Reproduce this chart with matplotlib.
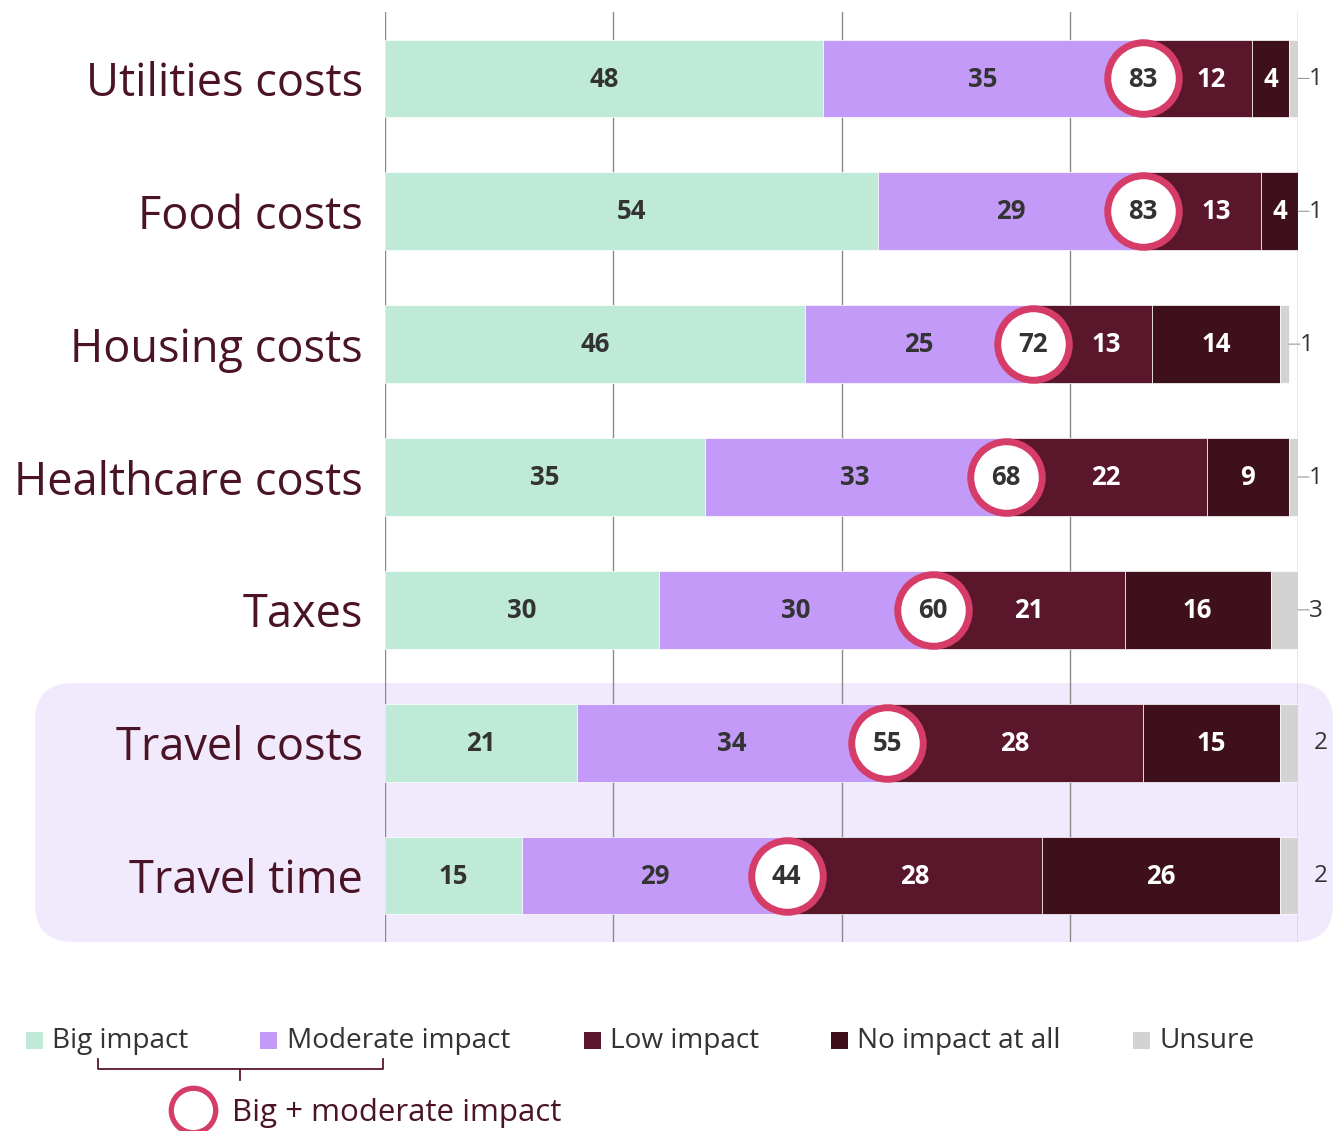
import matplotlib
matplotlib.use("Agg")
import matplotlib.pyplot as plt
from matplotlib.patches import FancyBboxPatch, Rectangle
from matplotlib.lines import Line2D

categories = ["Utilities costs", "Food costs", "Housing costs", "Healthcare costs",
              "Taxes", "Travel costs", "Travel time"]
big = [48, 54, 46, 35, 30, 21, 15]
moderate = [35, 29, 25, 33, 30, 34, 29]
low = [12, 13, 13, 22, 21, 28, 28]
no_impact = [4, 4, 14, 9, 16, 15, 26]
unsure = [1, 1, 1, 1, 3, 2, 2]
big_plus_moderate = [83, 83, 72, 68, 60, 55, 44]
series_names = ["Big impact", "Moderate impact", "Low impact", "No impact at all", "Unsure"]
combined_name = "Big + moderate impact"

colors = ["#bfead7", "#c39af7", "#5a172b", "#3e101c", "#d3d3d3"]
text_colors = ["#333333", "#333333", "white", "white", None]
ring = "#d63c68"
label_col = "#4a1426"

W, H = 1336, 1131
fig = plt.figure(figsize=(W / 100, H / 100), dpi=100)
FONT = "Open Sans"
plt.rcParams["font.family"] = [FONT, "DejaVu Sans"]

def fx(x):
    return x / W

def fy(y):
    return 1 - y / H

# highlight rounded box behind travel rows (in inches)
hl = FancyBboxPatch((35 / 100, (H - 942) / 100), (1333 - 35) / 100, (942 - 683) / 100,
                    boxstyle="round,pad=0,rounding_size=0.38",
                    transform=fig.dpi_scale_trans, facecolor="#f1eafc",
                    edgecolor="none", zorder=0)
fig.patches.append(hl)

ax = fig.add_axes([fx(385), fy(942), fx(1298) - fx(385), fy(12) - fy(942)])
ax.patch.set_alpha(0)
ax.set_zorder(1)

n = len(categories)
ypos = list(range(n))
series = [big, moderate, low, no_impact, unsure]
VAL_FS = 18.5
left = [0] * n
for si, vals in enumerate(series):
    ax.barh(ypos, vals, left=left, height=0.585, color=colors[si],
            edgecolor="white", linewidth=0.5, zorder=2)
    if text_colors[si] is not None:
        for i, v in enumerate(vals):
            xc = left[i] + v / 2
            # nudge narrow "low" labels away from the circle
            if si == 2 and v < 15:
                xc += 1.5
            ax.annotate(str(v), xy=(xc, i), xytext=(0, -0.5),
                        textcoords="offset points", ha="center", va="center",
                        fontsize=VAL_FS, fontweight="bold", color=text_colors[si],
                        zorder=3)
    left = [l + v for l, v in zip(left, vals)]

# big + moderate circles
bm_pos = [b + m for b, m in zip(big, moderate)]
ax.scatter(bm_pos, ypos, s=2650, facecolor="white", edgecolor=ring, linewidth=5,
           zorder=4)
for i, v in enumerate(big_plus_moderate):
    ax.annotate(str(v), xy=(bm_pos[i], i), xytext=(0, -0.5), textcoords="offset points",
                ha="center", va="center", fontsize=VAL_FS, fontweight="bold",
                color="#333333", zorder=5)

# unsure labels outside
for i, v in enumerate(unsure):
    tot = min(left[i], 100)
    if i < 5:
        ax.annotate(str(v), xy=(tot, i), xytext=(8, -0.5), textcoords="offset points",
                    ha="left", va="center", fontsize=17.5, color="#333333",
                    annotation_clip=False)
        ax.annotate("", xy=(tot, i), xytext=(8, 0), textcoords="offset points",
                    arrowprops=dict(arrowstyle="-", color="#999999", lw=0.8,
                                    shrinkA=0, shrinkB=0), annotation_clip=False)
    else:
        ax.annotate(str(v), xy=(tot, i), xytext=(11, -0.5), textcoords="offset points",
                    ha="left", va="center", fontsize=17.5, color="#333333",
                    annotation_clip=False)

ax.set_xlim(0, 100)
ax.set_ylim(n - 0.5, -0.5)
ax.set_xticks([0, 25, 50, 75, 100])
ax.xaxis.grid(True, color="#8a8a8a", linewidth=1)
ax.set_axisbelow(True)
ax.tick_params(axis="x", length=0, labelbottom=False)
ax.tick_params(axis="y", length=0, pad=16)
ax.set_yticks(ypos)
ax.set_yticklabels(categories, fontsize=32.5, color=label_col)
for s in ax.spines.values():
    s.set_visible(False)

# legend
leg_items = [(26, 52), (260, 287), (584, 610), (831, 857), (1133, 1159)]
ly = 1040
sq = 17
for (sx, tx), c, name in zip(leg_items, colors, series_names):
    fig.patches.append(Rectangle((fx(sx), fy(ly + sq / 2)), sq / W, sq / H,
                                 transform=fig.transFigure, facecolor=c,
                                 edgecolor="none", zorder=3))
    fig.text(fx(tx), fy(ly + 1), name, ha="left", va="center", fontsize=20.2,
             color="#333333")

# brace
bcol = "#5a172b"
by = 1069
fig.add_artist(Line2D([fx(98), fx(98), fx(383), fx(383)],
                      [fy(1059), fy(by), fy(by), fy(1059)],
                      color=bcol, lw=1.3, transform=fig.transFigure))
fig.add_artist(Line2D([fx(240), fx(240)], [fy(by), fy(1080)], color=bcol, lw=1.3,
                      transform=fig.transFigure))
fig.add_artist(Line2D([fx(193)], [fy(1110)], marker="o", markersize=32,
                      markerfacecolor="none", markeredgecolor=ring,
                      markeredgewidth=3.8, transform=fig.transFigure))
fig.text(fx(232), fy(1113), combined_name, ha="left", va="center", fontsize=22.5,
         color=label_col)

fig.savefig("out.png", dpi=100)
